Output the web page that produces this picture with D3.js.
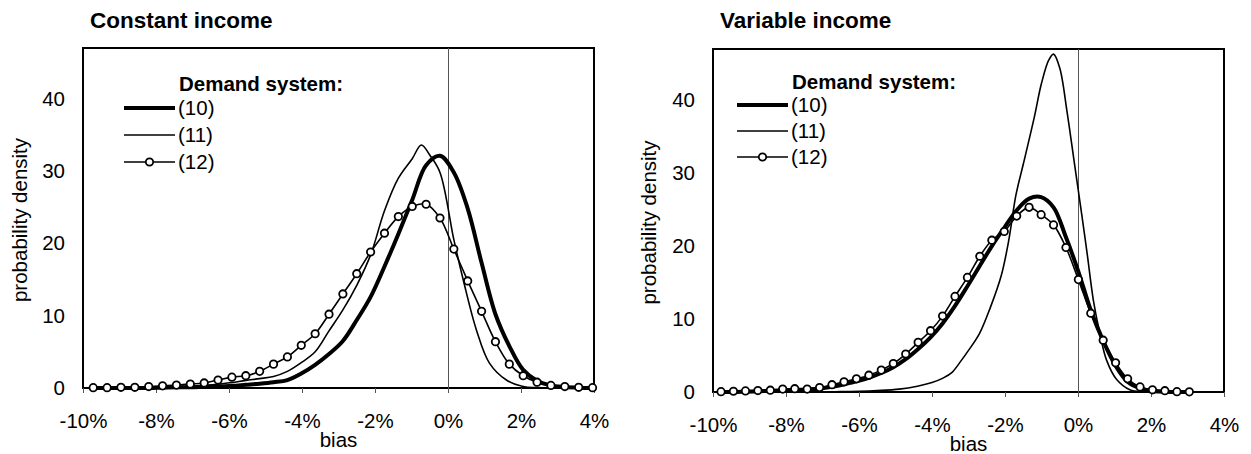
<!DOCTYPE html>
<html>
<head>
<meta charset="utf-8">
<script src="https://cdn.jsdelivr.net/npm/d3@7"></script>
<style>
  body { margin: 0; background: #fff; }
  svg text { font-family: "Liberation Sans", Arial, sans-serif; fill: #000; }
</style>
</head>
<body>
<div id="chart"></div>
<script>
// x ticks (bias, %) and y ticks (density)
const xTicks = [-10, -8, -6, -4, -2, 0, 2, 4]
const yTicks = [0, 10, 20, 30, 40]
const legendLabels = ["(10)", "(11)", "(12)"]

// Constant income
const constX = [-9.72, -9.34, -8.96, -8.58, -8.2, -7.82, -7.44, -7.06, -6.68, -6.3, -5.92, -5.54, -5.16,
  -4.78, -4.4, -4.02, -3.64, -3.26, -2.88, -2.5, -2.12, -1.74, -1.36, -0.98, -0.6, -0.22, 0.16, 0.54,
  0.92, 1.3, 1.68, 2.06, 2.44, 2.82, 3.2, 3.58, 3.96]
const const10 = [0, 0, 0, 0, 0, 0.05, 0.1, 0.1, 0.15, 0.2, 0.3, 0.45, 0.6, 0.8, 1.1, 2.0, 3.2, 4.7, 6.5,
  9.4, 12.6, 16.8, 21.3, 26.0, 30.8, 32.1, 29.8, 24.8, 17.3, 10.2, 5.8, 2.5, 1.0, 0.35, 0.15, 0.05, 0]
const const11X = [-9.72, -8.58, -8.2, -7.82, -7.44, -7.06, -6.68, -6.3, -5.92, -5.54, -5.16, -4.78, -4.4,
  -4.02, -3.64, -3.26, -2.88, -2.5, -2.12, -1.74, -1.36, -0.98, -0.73, -0.5, -0.22, 0.16, 0.42, 0.78,
  1.14, 1.6, 2.06, 2.44, 2.82, 3.96]
const const11 = [0, 0, 0, 0.05, 0.15, 0.25, 0.35, 0.5, 0.75, 1.05, 1.3, 1.6, 2.3, 3.5, 5.0, 7.9, 10.8,
  14.2, 18.4, 24.5, 29.0, 31.7, 33.6, 32.2, 29.8, 20.5, 14.9, 8.0, 3.4, 1.1, 0.2, 0.05, 0, 0]
const const12 = [0.05, 0.05, 0.1, 0.1, 0.2, 0.3, 0.4, 0.55, 0.7, 1.1, 1.5, 1.7, 2.3, 3.3, 4.3, 5.9, 7.5,
  10.2, 13.0, 15.8, 18.8, 21.4, 23.7, 25.1, 25.4, 23.5, 19.2, 14.8, 10.6, 6.4, 3.3, 1.7, 0.8, 0.36, 0.2,
  0.1, 0.05]

// Variable income
const varX = [-9.78, -9.44, -9.11, -8.77, -8.43, -8.09, -7.76, -7.42, -7.08, -6.74, -6.41, -6.07, -5.73,
  -5.39, -5.06, -4.72, -4.38, -4.04, -3.71, -3.37, -3.03, -2.69, -2.36, -2.02, -1.68, -1.34, -1.01,
  -0.67, -0.33, 0.01, 0.35, 0.69, 1.03, 1.36, 1.7, 2.04, 2.38, 2.71, 3.05]
const var10 = [0, 0, 0.05, 0.1, 0.15, 0.2, 0.3, 0.35, 0.45, 0.7, 1.05, 1.45, 1.95, 2.6, 3.4, 4.5, 5.9,
  7.5, 9.4, 11.8, 14.5, 17.3, 20.0, 22.5, 24.9, 26.5, 26.7, 25.3, 21.2, 16.5, 11.2, 7.0, 3.6, 1.4, 0.5,
  0.15, 0.05, 0, 0]
const var11X = [-9.78, -8, -7, -6.5, -6, -5.5, -4.9, -4.4, -4.0, -3.7, -3.45, -3.2, -3.0, -2.7, -2.4,
  -2.1, -1.9, -1.7, -1.5, -1.2, -1.0, -0.8, -0.67, -0.5, -0.3, -0.1, 0.1, 0.25, 0.42, 0.6, 0.78, 1.06,
  1.42, 1.8, 3.05]
const var11 = [0, 0, 0, 0.05, 0.1, 0.2, 0.4, 0.8, 1.3, 1.9, 2.7, 4.3, 5.7, 8.0, 11.6, 16.0, 20.7, 27.0,
  31.2, 37.6, 42.3, 45.5, 46.3, 44.4, 38.4, 31.4, 24.4, 19.0, 12.6, 8.0, 4.4, 1.7, 0.3, 0, 0]
const var12 = [0.05, 0.1, 0.15, 0.2, 0.25, 0.4, 0.45, 0.4, 0.6, 1.0, 1.4, 1.8, 2.3, 3.0, 3.9, 5.2, 6.8,
  8.4, 10.4, 13.1, 15.7, 18.6, 20.8, 22.0, 24.1, 25.3, 24.3, 22.9, 19.8, 15.4, 10.8, 7.1, 4.0, 1.8, 0.7,
  0.3, 0.18, 0.05, 0.02]

const W = 1251, H = 454
const FS = "20.5px"
const svg = d3.select("#chart").append("svg")
  .attr("width", W).attr("height", H)

const panels = [
  { title: "Constant income", left: 83, right: 594, top: 48, bottom: 388, ylab: 56,
    legend: { x1: 124, x2: 175, y: [108, 135, 162], head: 91 },
    s10: [constX, const10], s11: [const11X, const11], s12: [constX, const12] },
  { title: "Variable income", left: 713, right: 1224, top: 49, bottom: 392, ylab: 57,
    legend: { x1: 737, x2: 788, y: [105, 131, 157], head: 89 },
    s10: [varX, var10], s11: [var11X, var11], s12: [varX, var12] }
]

panels.forEach(p => {
  const g = svg.append("g")
  const x = d3.scaleLinear().domain([-10, 4]).range([p.left, p.right])
  const y = d3.scaleLinear().domain([0, 47]).range([p.bottom, p.top])

  g.append("text")
    .attr("x", p.left + 7).attr("y", 28)
    .style("font-weight", "bold").style("font-size", "22.5px")
    .text(p.title)

  // frame
  g.append("rect")
    .attr("x", p.left).attr("y", p.top)
    .attr("width", p.right - p.left).attr("height", p.bottom - p.top)
    .attr("fill", "none").attr("stroke", "#000").attr("stroke-width", 2)

  // zero line
  g.append("line")
    .attr("x1", x(0)).attr("x2", x(0)).attr("y1", p.top).attr("y2", p.bottom)
    .attr("stroke", "#555").attr("stroke-width", 1)
    .attr("shape-rendering", "crispEdges")

  const yAxis = g.append("g")
    .attr("transform", `translate(${p.left},0)`)
    .call(d3.axisLeft(y).tickValues(yTicks).tickSize(0).tickPadding(18))
  yAxis.select(".domain").remove()
  yAxis.selectAll("text").style("font-size", FS).style("font-family", null)

  const xAxis = g.append("g")
    .attr("transform", `translate(0,${p.bottom})`)
    .call(d3.axisBottom(x).tickValues(xTicks).tickSize(5).tickPadding(20).tickFormat(d => d + "%"))
  xAxis.select(".domain").remove()
  xAxis.selectAll("line").attr("stroke", "#555").attr("shape-rendering", "crispEdges")
  xAxis.selectAll("text").style("font-size", FS).style("font-family", null)

  g.append("text")
    .attr("x", (p.left + p.right) / 2).attr("y", p.bottom + 59)
    .attr("text-anchor", "middle").style("font-size", FS)
    .text("bias")

  g.append("text")
    .attr("transform", `translate(${p.left - p.ylab},${(p.top + p.bottom) / 2 + 2}) rotate(-90)`)
    .attr("text-anchor", "middle").style("font-size", FS)
    .text("probability density")

  const line = d3.line()
    .x(d => x(d[0])).y(d => y(d[1]))
    .curve(d3.curveCatmullRom.alpha(0.5))
  const pts = s => s[0].map((v, i) => [v, s[1][i]])

  g.append("path").attr("d", line(pts(p.s10)))
    .attr("fill", "none").attr("stroke", "#000").attr("stroke-width", 4)
  g.append("path").attr("d", line(pts(p.s11)))
    .attr("fill", "none").attr("stroke", "#000").attr("stroke-width", 1.6)
  g.append("path").attr("d", line(pts(p.s12)))
    .attr("fill", "none").attr("stroke", "#000").attr("stroke-width", 1.6)
  g.selectAll("circle.m")
    .data(pts(p.s12))
    .join("circle")
      .attr("class", "m")
      .attr("cx", d => x(d[0])).attr("cy", d => y(d[1]))
      .attr("r", 3.7)
      .attr("fill", "#fff").attr("stroke", "#000").attr("stroke-width", 1.8)

  // legend
  const L = p.legend
  g.append("text")
    .attr("x", L.x2 + 4).attr("y", L.head)
    .style("font-weight", "bold").style("font-size", FS)
    .text("Demand system:")
  const widths = [4, 1.6, 1.6]
  legendLabels.forEach((lab, i) => {
    g.append("line")
      .attr("x1", L.x1).attr("x2", L.x2).attr("y1", L.y[i]).attr("y2", L.y[i])
      .attr("stroke", "#000").attr("stroke-width", widths[i])
    if (i === 2) {
      g.append("circle")
        .attr("cx", (L.x1 + L.x2) / 2).attr("cy", L.y[i]).attr("r", 3.7)
        .attr("fill", "#fff").attr("stroke", "#000").attr("stroke-width", 1.8)
    }
    g.append("text")
      .attr("x", L.x2 + 3).attr("y", L.y[i])
      .attr("dy", "0.36em").style("font-size", FS)
      .text(lab)
  })
})
</script>
</body>
</html>
